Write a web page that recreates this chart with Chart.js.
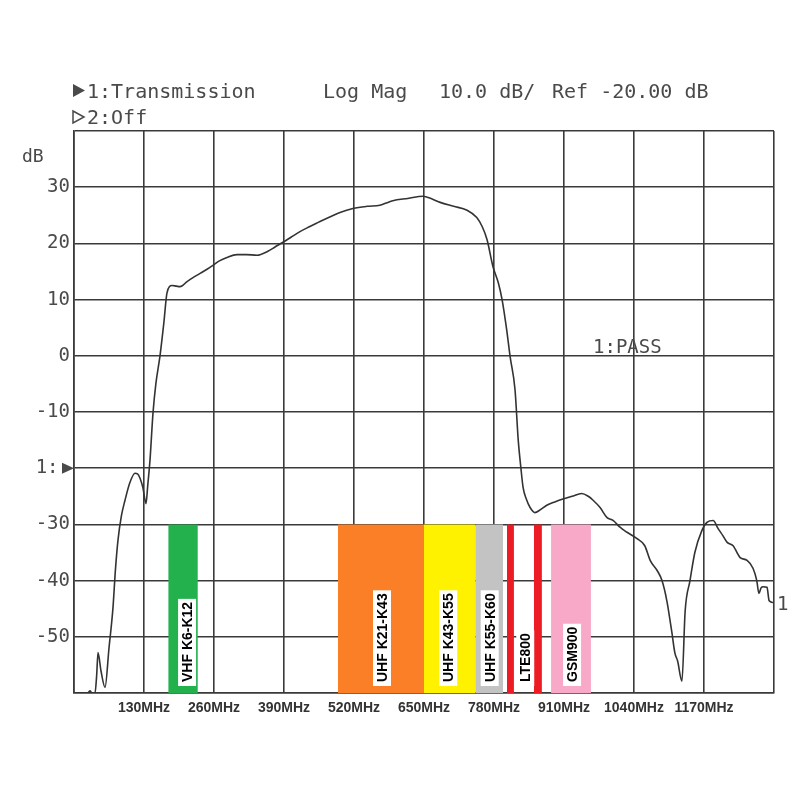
<!DOCTYPE html>
<html>
<head>
<meta charset="utf-8">
<title>Transmission</title>
<script src="https://cdn.jsdelivr.net/npm/chart.js@4.4.0/dist/chart.umd.min.js"></script>
<style>
  html, body { margin: 0; padding: 0; background: #fff; }
  canvas { display: block; }
</style>
</head>
<body>
<canvas id="chart" width="800" height="800"></canvas>
<script>
// measured trace (MHz, dB)
const freqMHz = [2, 5, 25, 30, 33, 39, 42, 44.6, 50, 57.6, 65, 72.4, 77, 81.7, 88, 94.7, 104, 113.3, 118, 122.6, 128, 133.7, 137, 141.1,
  146.7, 152, 159.7, 167, 172.7, 182, 190, 196.9, 210, 221, 235, 247, 258, 270, 284, 302.7, 320, 339.9, 360, 374, 388, 403, 419.7,
  438, 456.9, 475, 494, 518, 545, 568, 580, 592, 620, 648, 665, 680, 705, 730, 748, 758, 767, 778, 788, 795, 803, 810, 819, 825,
  830, 834, 840, 847, 856, 866, 878, 893, 908, 925, 943, 955, 964, 977, 990, 1001, 1014, 1027, 1045, 1060, 1070, 1083, 1092,
  1101, 1110, 1116, 1121, 1129, 1135, 1144, 1153, 1166, 1176, 1187, 1196, 1205, 1213, 1224, 1237, 1250, 1261, 1268, 1272, 1276,
  1280, 1287, 1291, 1298];
const gainDb = [-60, -60, -60, -59.6, -60, -60, -57, -52.8, -56, -59, -52, -44.8, -38, -32.8, -28.5, -25.7, -22.5, -20.9, -21, -21.8,
  -23.5, -26.3, -23, -18.6, -10.2, -5, 0, 6, 11.2, 12.5, 12.4, 12.3, 13.2, 13.9, 14.7, 15.4, 16.1, 16.9, 17.5, 18.0, 18.0, 17.9,
  18.6, 19.4, 20.2, 21.1, 22.1, 23.0, 23.9, 24.7, 25.5, 26.2, 26.6, 26.8, 27.2, 27.6, 28.0, 28.4, 27.9, 27.3, 26.6, 25.9, 24.6,
  23.0, 20.7, 15.9, 13, 10, 5, -0.2, -6, -15, -20, -23.4, -25.5, -27, -27.9, -27.4, -26.6, -26, -25.5, -25, -24.5, -25, -25.7,
  -27, -28.8, -29.3, -30.5, -31.4, -32.5, -33.8, -36.4, -38.2, -40, -43.6, -49, -52.9, -54.3, -57.9, -45.4, -40, -35, -31.1,
  -29.6, -29.3, -30.7, -32, -33.2, -33.8, -35.9, -36.4, -37.8, -40, -42.3, -41.3, -41.1, -41.2, -43.6, -43.9];

// frequency bands
const blockStart = [175, 490, 650, 745, 804, 854, 886];
const blockEnd = [230, 650, 745, 797, 817, 869, 960];
const blockColors = ['#23b14d', '#fb7f26', '#fff200', '#c3c3c3', '#ed1c24', '#ed1c24', '#f9a9c8'];
const bandTop = -30;
const bandBottom = -60;
const labelText = ['VHF K6-K12', 'UHF K21-K43', 'UHF K43-K55', 'UHF K55-K60', 'LTE800', 'GSM900'];
const labelFreq = [210, 572, 695, 772, 838, 925];

// axes
const xMin = 0;
const xMax = 1300;
const xStep = 130;
const yMin = -60;
const yMax = 40;
const yStep = 10;
const refLevel = -20;

const monoFont = '"DejaVu Sans Mono", monospace';
const textGray = '#4a4a4a';
const gridColor = '#3a3a3a';

const trace = freqMHz.map((f, i) => ({ x: f, y: gainDb[i] }));

const bandSets = blockStart.map((s, i) => ({
	data: [{ x: s, y: bandTop }, { x: blockEnd[i], y: bandTop }],
	backgroundColor: blockColors[i],
	borderWidth: 0,
	pointRadius: 0,
	fill: { value: bandBottom },
}));

function triangle(ctx, x, y, w, h, filled) {
	ctx.beginPath();
	ctx.moveTo(x, y);
	ctx.lineTo(x + w, y + h / 2);
	ctx.lineTo(x, y + h);
	ctx.closePath();
	if (filled) {
		ctx.fill();
	} else {
		ctx.lineWidth = 1.5;
		ctx.stroke();
	}
}

const annotations = {
	id: 'annotations',
	afterDraw(chart) {
		const { ctx, chartArea, scales } = chart;
		ctx.save();
		ctx.fillStyle = textGray;
		ctx.strokeStyle = textGray;
		ctx.textBaseline = 'alphabetic';
		ctx.textAlign = 'left';
		ctx.font = '20px ' + monoFont;
		triangle(ctx, 73, 84, 12, 13, true);
		ctx.fillText('1:Transmission', 87, 98);
		ctx.fillText('Log Mag', 323, 98);
		ctx.fillText('10.0 dB/', 439, 98);
		ctx.fillText('Ref -20.00 dB', 552, 98);
		triangle(ctx, 73, 111, 11, 12, false);
		ctx.fillText('2:Off', 87, 124);
		ctx.font = '18px ' + monoFont;
		ctx.fillText('dB', 22, 162);
		ctx.font = '19px ' + monoFont;
		ctx.fillText('1:PASS', 593, 353);
		ctx.fillText('1', chartArea.right + 3, scales.y.getPixelForValue(gainDb[gainDb.length - 1]) + 7);
		const yRef = scales.y.getPixelForValue(refLevel);
		triangle(ctx, chartArea.left - 12, yRef - 5.5, 12, 11, true);
		ctx.restore();
	},
};

const bandLabels = {
	id: 'bandLabels',
	afterDatasetsDraw(chart) {
		const { ctx, chartArea, scales } = chart;
		ctx.font = 'bold 14px "Liberation Sans", Arial, sans-serif';
		labelText.forEach((text, i) => {
			const x = scales.x.getPixelForValue(labelFreq[i]);
			const w = ctx.measureText(text).width;
			const base = chartArea.bottom - 8;
			ctx.save();
			ctx.fillStyle = '#fff';
			ctx.fillRect(x - 9, base - w - 6, 18, w + 7);
			ctx.translate(x, base - 3);
			ctx.rotate(-Math.PI / 2);
			ctx.fillStyle = '#000';
			ctx.textBaseline = 'middle';
			ctx.textAlign = 'left';
			ctx.fillText(text, 0, 1);
			ctx.restore();
		});
	},
};

const chart = new Chart(document.getElementById('chart'), {
	type: 'line',
	data: {
		datasets: [{
			data: trace,
			borderColor: '#333',
			borderWidth: 1.6,
			pointRadius: 0,
			fill: false,
			cubicInterpolationMode: 'monotone',
		}].concat(bandSets),
	},
	options: {
		responsive: false,
		animation: false,
		events: [],
		layout: { padding: { top: 131, right: 26, left: 0, bottom: 0 } },
		plugins: { legend: { display: false }, tooltip: { enabled: false } },
		scales: {
			x: {
				type: 'linear',
				min: xMin,
				max: xMax,
				afterFit(scale) { scale.height = 107; },
				grid: { color: gridColor, lineWidth: 1.6, drawTicks: false },
				border: { color: gridColor, width: 1.6 },
				ticks: {
					stepSize: xStep,
					autoSkip: false,
					maxRotation: 0,
					padding: 7,
					color: '#333',
					font: { family: '"Liberation Sans", Arial, sans-serif', size: 14, weight: 'bold' },
					callback: (v) => (v === xMin || v === xMax ? '' : v + 'MHz'),
				},
			},
			y: {
				type: 'linear',
				min: yMin,
				max: yMax,
				afterFit(scale) { scale.width = 74; },
				grid: { color: gridColor, lineWidth: 1.6, drawTicks: false },
				border: { color: gridColor, width: 1.6 },
				ticks: {
					stepSize: yStep,
					autoSkip: false,
					padding: 4,
					color: textGray,
					font: { family: monoFont, size: 19 },
					callback: (v) => {
						if (v === yMin || v === yMax) return '';
						if (v === refLevel) return '1: ';
						return String(v);
					},
				},
			},
		},
	},
	plugins: [bandLabels, annotations],
});
</script>
</body>
</html>
